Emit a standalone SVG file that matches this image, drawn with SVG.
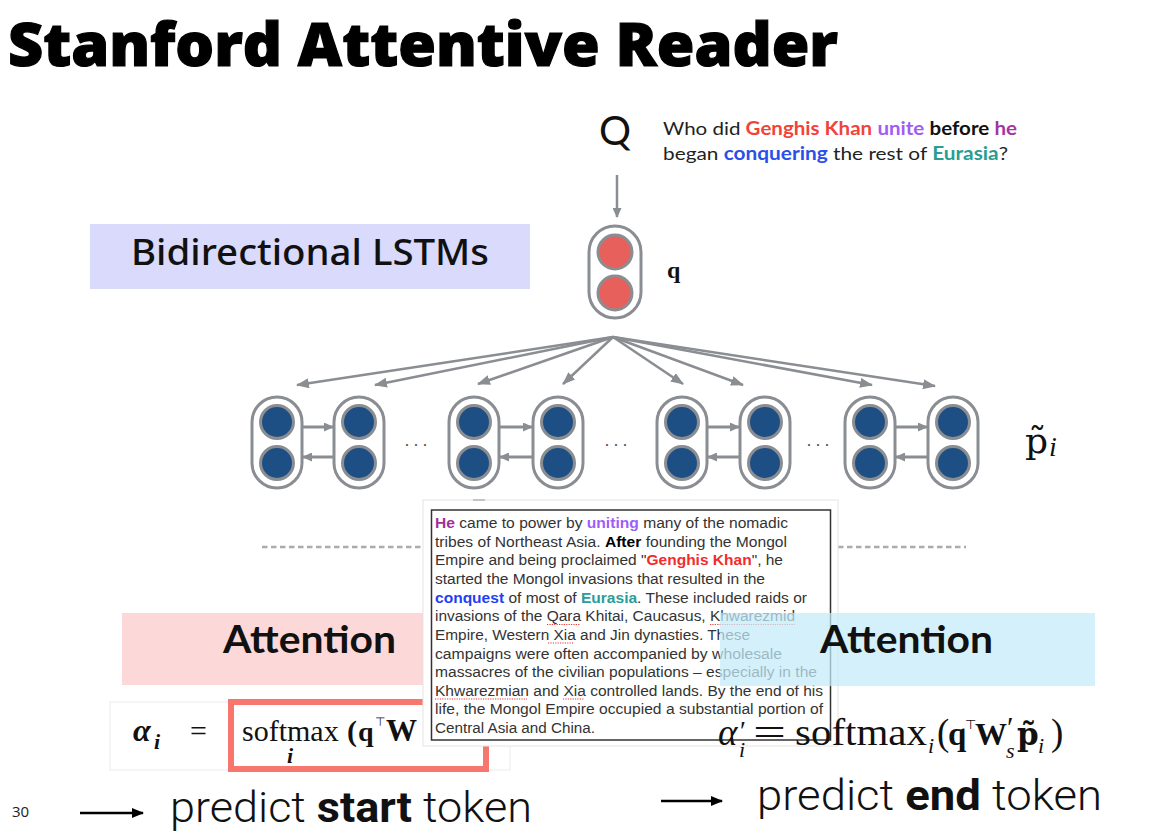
<svg xmlns="http://www.w3.org/2000/svg" width="1166" height="840" viewBox="0 0 1166 840">
<defs>
<marker id="ag" markerUnits="userSpaceOnUse" markerWidth="13" markerHeight="10" refX="12" refY="5" orient="auto"><path d="M0,0 L13,5 L0,10 z" fill="#8a8d91"/></marker>
<marker id="as" markerUnits="userSpaceOnUse" markerWidth="10" markerHeight="9" refX="9" refY="4.5" orient="auto"><path d="M0,0 L10,4.5 L0,9 z" fill="#8a8d91"/></marker>
<marker id="ak" markerUnits="userSpaceOnUse" markerWidth="12" markerHeight="10" refX="11" refY="5" orient="auto"><path d="M0,0 L12,5 L0,10 z" fill="#000"/></marker>
</defs>
<style>
.cap{fill:#fff;stroke:#8a8d91;stroke-width:3}
.bc{fill:#1e4f84;stroke:#8a8d91;stroke-width:3}
.rc{fill:#e8605c;stroke:#8a8d91;stroke-width:3}
.fan{stroke:#8a8d91;stroke-width:2.5;fill:none;marker-end:url(#ag)}
.h{stroke:#8a8d91;stroke-width:3;fill:none;marker-end:url(#as)}
.pt{font-family:"Liberation Sans",Arial,sans-serif;font-size:15.4px;fill:#333}
.b{font-weight:bold}
.it{font-style:italic}
.sq{stroke:#e53935;stroke-width:1.2;stroke-dasharray:1.2 1.2;fill:none}
.m{font-family:"Liberation Serif","Times New Roman",serif;fill:#111}
.dv{font-family:"DejaVu Serif",serif}
.top{font-family:"DejaVu Sans",sans-serif}
.lato{font-family:Lato,"Open Sans",sans-serif}
.dots{font-family:"Liberation Sans",sans-serif;font-size:18px;fill:#555;letter-spacing:3px}
</style>
<rect width="1166" height="840" fill="#fff"/>

<g id="title">
<text x="8" y="66" font-family="'Open Sans',sans-serif" font-weight="800" font-size="61" textLength="830" lengthAdjust="spacingAndGlyphs" fill="#000" stroke="#000" stroke-width="1.2">Stanford Attentive Reader</text>
</g>

<g id="question">
<text x="599" y="145" class="lato" font-weight="400" font-size="40" fill="#111">Q</text>
<text x="663" y="135" class="lato" font-size="18" fill="#222" textLength="354" lengthAdjust="spacingAndGlyphs">Who did <tspan class="b" fill="#f2433a">Genghis Khan</tspan> <tspan class="b" fill="#a05cf5">unite</tspan> <tspan class="b" fill="#111">before</tspan> <tspan class="b" fill="#a3369e">he</tspan></text>
<text x="663" y="160" class="lato" font-size="18" fill="#222" textLength="345" lengthAdjust="spacingAndGlyphs">began <tspan class="b" fill="#2b50ea">conquering</tspan> the rest of <tspan class="b" fill="#2a9d93">Eurasia</tspan>?</text>
</g>

<g id="label-bilstm">
<rect x="90" y="224" width="440" height="65" fill="#d9dafc"/>
<text x="131" y="265" font-family="'Noto Sans',Lato,sans-serif" font-weight="500" font-size="36" fill="#111" textLength="358" lengthAdjust="spacingAndGlyphs">Bidirectional LSTMs</text>
</g>

<g id="q-node">
<rect x="589" y="226" width="52" height="92" rx="26" class="cap"/>
<circle cx="615" cy="252" r="17" class="rc"/>
<circle cx="615" cy="293" r="17" class="rc"/>
<text x="667" y="278" class="m" font-weight="bold" font-size="24">q</text>
</g>

<g id="p1"><rect x="252" y="397" width="50" height="91" rx="25" class="cap"/><circle cx="277" cy="422" r="16.5" class="bc"/><circle cx="277" cy="463" r="16.5" class="bc"/></g>
<g id="p2"><rect x="334" y="397" width="50" height="91" rx="25" class="cap"/><circle cx="359" cy="422" r="16.5" class="bc"/><circle cx="359" cy="463" r="16.5" class="bc"/></g>
<g id="p3"><rect x="449" y="397" width="50" height="91" rx="25" class="cap"/><circle cx="474" cy="422" r="16.5" class="bc"/><circle cx="474" cy="463" r="16.5" class="bc"/></g>
<g id="p4"><rect x="533" y="397" width="50" height="91" rx="25" class="cap"/><circle cx="558" cy="422" r="16.5" class="bc"/><circle cx="558" cy="463" r="16.5" class="bc"/></g>
<g id="p5"><rect x="657" y="397" width="50" height="91" rx="25" class="cap"/><circle cx="682" cy="422" r="16.5" class="bc"/><circle cx="682" cy="463" r="16.5" class="bc"/></g>
<g id="p6"><rect x="740" y="397" width="50" height="91" rx="25" class="cap"/><circle cx="765" cy="422" r="16.5" class="bc"/><circle cx="765" cy="463" r="16.5" class="bc"/></g>
<g id="p7"><rect x="845" y="397" width="50" height="91" rx="25" class="cap"/><circle cx="870" cy="422" r="16.5" class="bc"/><circle cx="870" cy="463" r="16.5" class="bc"/></g>
<g id="p8"><rect x="928" y="397" width="50" height="91" rx="25" class="cap"/><circle cx="953" cy="422" r="16.5" class="bc"/><circle cx="953" cy="463" r="16.5" class="bc"/></g>

<g id="ellipses">
<text x="404" y="450" class="dots">···</text>
<text x="604" y="450" class="dots">···</text>
<text x="806" y="450" class="dots">···</text>
</g>

<g id="label-p">
<text class="m" font-size="36"><tspan class="dv" x="1025" y="453">p̃</tspan><tspan class="it" x="1049" y="456" font-size="28">i</tspan></text>
</g>

<g id="connectors">
<line x1="617" y1="175" x2="617" y2="217" stroke="#8a8d91" stroke-width="2.5" marker-end="url(#as)"/>
<line x1="613" y1="337" x2="297" y2="385" class="fan"/>
<line x1="613" y1="337" x2="375" y2="385" class="fan"/>
<line x1="613" y1="337" x2="478" y2="384" class="fan"/>
<line x1="613" y1="337" x2="563" y2="384" class="fan"/>
<line x1="613" y1="337" x2="683" y2="384" class="fan"/>
<line x1="613" y1="337" x2="743" y2="385" class="fan"/>
<line x1="613" y1="337" x2="872" y2="385" class="fan"/>
<line x1="613" y1="337" x2="935" y2="386" class="fan"/>
<line x1="302" y1="427" x2="333" y2="427" class="h"/>
<line x1="334" y1="457" x2="303" y2="457" class="h"/>
<line x1="499" y1="427" x2="532" y2="427" class="h"/>
<line x1="533" y1="457" x2="500" y2="457" class="h"/>
<line x1="707" y1="427" x2="739" y2="427" class="h"/>
<line x1="740" y1="457" x2="708" y2="457" class="h"/>
<line x1="895" y1="427" x2="927" y2="427" class="h"/>
<line x1="928" y1="457" x2="896" y2="457" class="h"/>
</g>

<g id="separator">
<line x1="262" y1="547" x2="966" y2="547" stroke="#a9abae" stroke-width="2.5" stroke-dasharray="5.5 3.5"/>
</g>

<g id="attention-start">
<rect x="122" y="613" width="330" height="72" fill="#fdd8d8"/>
<text x="223" y="653" class="lato b" font-size="38" fill="#111" textLength="173" lengthAdjust="spacingAndGlyphs">Attention</text>
</g>

<g id="formula-start">
<rect x="110" y="702" width="400" height="68" fill="#fff" stroke="#ececec" stroke-width="1"/>
<rect x="231" y="702" width="255" height="67" fill="none" stroke="#f7776f" stroke-width="6"/>
<text class="m it b" font-size="32"><tspan x="133" y="741">α</tspan><tspan x="154" y="749" font-size="22">i</tspan></text>
<text x="190" y="741" class="m" font-size="30">=</text>
<text class="m" font-size="30"><tspan x="242" y="741">softmax</tspan><tspan class="it b" x="287" y="763" font-size="22">i</tspan></text>
<text class="m b" font-size="30"><tspan x="347" y="741">(</tspan><tspan x="358" y="741" font-size="28">q</tspan><tspan class="top" x="375" y="726" font-size="12" font-weight="normal">⊤</tspan><tspan x="386" y="741" font-size="31">W</tspan></text>
</g>

<g id="passage">
<rect x="423" y="500" width="415" height="246" fill="#fff" stroke="#e4e4e4" stroke-width="1"/>
<rect x="473" y="499" width="12" height="2" fill="#c4c4c4"/>
<rect x="431.5" y="510" width="399" height="230" fill="none" stroke="#333" stroke-width="1.5"/>
<text class="pt" x="435" y="528" textLength="353" lengthAdjust="spacingAndGlyphs"><tspan class="b" fill="#a0309c">He</tspan> came to power by <tspan class="b" fill="#9d5ff6">uniting</tspan> many of the nomadic</text>
<text class="pt" x="435" y="546.6" textLength="352" lengthAdjust="spacingAndGlyphs">tribes of Northeast Asia. <tspan class="b" fill="#000">After</tspan> founding the Mongol</text>
<text class="pt" x="435" y="565.3" textLength="348" lengthAdjust="spacingAndGlyphs">Empire and being proclaimed &quot;<tspan class="b" fill="#f32b2b">Genghis Khan</tspan>&quot;, he</text>
<text class="pt" x="435" y="583.9" textLength="330" lengthAdjust="spacingAndGlyphs">started the Mongol invasions that resulted in the</text>
<text class="pt" x="435" y="602.6" textLength="372" lengthAdjust="spacingAndGlyphs"><tspan class="b" fill="#1f3ff5">conquest</tspan> of most of <tspan class="b" fill="#2a9d9a">Eurasia</tspan>. These included raids or</text>
<text class="pt" x="435" y="621.2" textLength="360" lengthAdjust="spacingAndGlyphs">invasions of the Qara Khitai, Caucasus, Khwarezmid</text>
<text class="pt" x="435" y="639.8" textLength="315" lengthAdjust="spacingAndGlyphs">Empire, Western Xia and Jin dynasties. These</text>
<text class="pt" x="435" y="658.5" textLength="347" lengthAdjust="spacingAndGlyphs">campaigns were often accompanied by wholesale</text>
<text class="pt" x="435" y="677.1" textLength="382" lengthAdjust="spacingAndGlyphs">massacres of the civilian populations – especially in the</text>
<text class="pt" x="435" y="695.8" textLength="388" lengthAdjust="spacingAndGlyphs">Khwarezmian and Xia controlled lands. By the end of his</text>
<text class="pt" x="435" y="714.4" textLength="388" lengthAdjust="spacingAndGlyphs">life, the Mongol Empire occupied a substantial portion of</text>
<text class="pt" x="435" y="733" textLength="160" lengthAdjust="spacingAndGlyphs">Central Asia and China.</text>
<line x1="547" y1="624.5" x2="580" y2="624.5" class="sq"/>
<line x1="710" y1="624.5" x2="795" y2="624.5" class="sq"/>
<line x1="548" y1="643" x2="574" y2="643" class="sq"/>
<line x1="435" y1="699" x2="527" y2="699" class="sq"/>
<line x1="563" y1="699" x2="584" y2="699" class="sq"/>
</g>

<g id="attention-end">
<rect x="720" y="613" width="375" height="73" fill="#c4ebfa" opacity="0.72"/>
<text x="820" y="653" class="lato b" font-size="38" fill="#111" textLength="173" lengthAdjust="spacingAndGlyphs">Attention</text>
</g>

<g id="formula-end">
<text class="m" font-size="37"><tspan class="it" x="718" y="745">α</tspan><tspan x="740" y="740" font-size="27">′</tspan><tspan class="it" x="739" y="757" font-size="22">i</tspan></text>
<text x="753" y="745" class="m" font-size="37" textLength="33" lengthAdjust="spacingAndGlyphs">=</text>
<text x="795" y="745" class="m" font-size="37" textLength="132" lengthAdjust="spacingAndGlyphs">softmax</text>
<text class="m" font-size="37"><tspan class="it" x="928" y="753" font-size="22">i</tspan><tspan x="937" y="745">(</tspan><tspan class="b" x="948" y="745" font-size="33">q</tspan><tspan class="top" x="965" y="729" font-size="13">⊤</tspan><tspan class="b" x="975" y="745" font-size="32">W</tspan><tspan x="1007" y="737" font-size="30">′</tspan><tspan class="it" x="1006" y="758" font-size="22">s</tspan><tspan class="dv b" x="1017" y="745" font-size="31">p̃</tspan><tspan class="it" x="1038" y="753" font-size="22">i</tspan><tspan x="1051" y="745">)</tspan></text>
</g>

<g id="footer">
<text x="12" y="817" font-family="'Open Sans',sans-serif" font-size="15" fill="#222">30</text>
<line x1="80" y1="813" x2="143" y2="813" stroke="#000" stroke-width="2.5" marker-end="url(#ak)"/>
<text x="170" y="822" font-family="Roboto,'Liberation Sans',sans-serif" font-weight="300" font-size="43" fill="#111" textLength="362" lengthAdjust="spacingAndGlyphs">predict <tspan font-weight="bold">start</tspan> token</text>
<line x1="661" y1="801" x2="722" y2="801" stroke="#000" stroke-width="2.5" marker-end="url(#ak)"/>
<text x="757" y="810" font-family="Roboto,'Liberation Sans',sans-serif" font-weight="300" font-size="42" fill="#111" textLength="345" lengthAdjust="spacingAndGlyphs">predict <tspan font-weight="bold">end</tspan> token</text>
</g>
</svg>
